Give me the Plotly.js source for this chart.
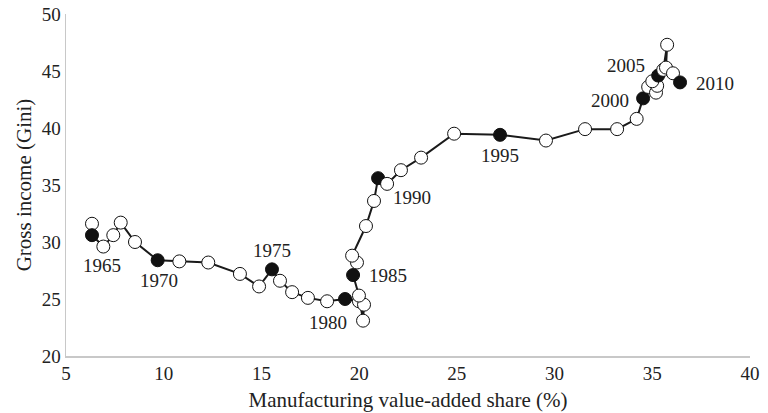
<!DOCTYPE html>
<html>
<head>
<meta charset="utf-8">
<script src="https://cdn.plot.ly/plotly-3.0.1.min.js"></script>
<style>html,body{margin:0;padding:0;background:#fff;}#chart{width:768px;height:413px;}</style>
</head>
<body>
<div id="chart"></div>
<script>
const years = [1964,1965,1966,1967,1968,1969,1970,1971,1972,1973,1974,1975,1976,1977,1978,1979,
  1980,1981,1982,1983,1984,1985,1986,1987,1988,1989,1990,1991,1992,1993,1994,1995,1996,1997,1998,1999,
  2000,2001,2002,2003,2004,2005,2006,2007,2008,2009,2010];
const manufShare = [6.33,6.33,6.91,7.42,7.80,8.53,9.69,10.8,12.28,13.9,14.88,15.54,15.95,16.57,17.38,18.36,
  19.28,19.99,20.25,20.2,19.99,19.69,19.89,19.64,20.35,20.76,20.97,21.43,22.14,23.17,24.86,27.21,29.56,31.56,33.2,34.2,
  34.53,34.79,35.19,35.25,35.0,35.3,35.56,35.76,35.7,36.06,36.42];
const gini = [31.6,30.6,29.6,30.6,31.7,30.0,28.4,28.3,28.2,27.2,26.1,27.6,26.6,25.6,25.1,24.8,
  25.0,24.8,24.5,23.1,25.3,27.1,28.2,28.8,31.4,33.6,35.6,35.1,36.3,37.4,39.5,39.4,38.9,39.9,39.9,40.8,
  42.6,43.6,43.1,43.7,44.1,44.6,45.1,47.3,45.3,44.8,44.0];
const labelYears = [1965,1970,1975,1980,1985,1990,1995,2000,2005,2010];
const labelShift = {1965:[10,-30],1970:[1,-20],1975:[0,19],1980:[-17,-23],1985:[35,0],1990:[34,-19],
  1995:[0,-21],2000:[-33,-2],2005:[-32,10],2010:[35,-1]};

const isKey = years.map(y => y % 5 === 0);
const font = "'Liberation Serif', 'Times New Roman', serif";

const trace = {
  x: manufShare, y: gini, type: 'scatter', mode: 'lines+markers',
  line: {color: '#1a1a1a', width: 2},
  marker: {size: 13, color: isKey.map(k => k ? '#111' : '#fff'),
           line: {color: '#111', width: 1}},
  hoverinfo: 'none'
};

const annotations = labelYears.map(yr => {
  const i = years.indexOf(yr);
  return {x: manufShare[i], y: gini[i], text: String(yr), showarrow: false,
    xshift: labelShift[yr][0], yshift: labelShift[yr][1],
    font: {family: font, size: 19, color: '#222'}};
});

const layout = {
  width: 768, height: 413,
  margin: {l: 66, r: 18, t: 14, b: 57},
  paper_bgcolor: '#fff', plot_bgcolor: '#fff',
  showlegend: false, hovermode: false,
  font: {family: font, size: 19, color: '#222'},
  xaxis: {range: [5, 40], dtick: 5, tick0: 5, showgrid: false, zeroline: false,
    showline: true, linecolor: '#c8c8c8', linewidth: 1.5, ticks: '',
    tickfont: {family: font, size: 19, color: '#222'},
    title: {text: 'Manufacturing value-added share (%)', font: {family: font, size: 21, color: '#222'}, standoff: 9}},
  yaxis: {range: [20, 50], dtick: 5, tick0: 20, showgrid: false, zeroline: false,
    showline: true, linecolor: '#c8c8c8', linewidth: 1.5, ticks: '',
    tickfont: {family: font, size: 19, color: '#222'},
    title: {text: 'Gross income (Gini)', font: {family: font, size: 21, color: '#222'}, standoff: 4}},
  annotations: annotations
};

Plotly.newPlot('chart', [trace], layout, {displayModeBar: false, staticPlot: true});
</script>
</body>
</html>
